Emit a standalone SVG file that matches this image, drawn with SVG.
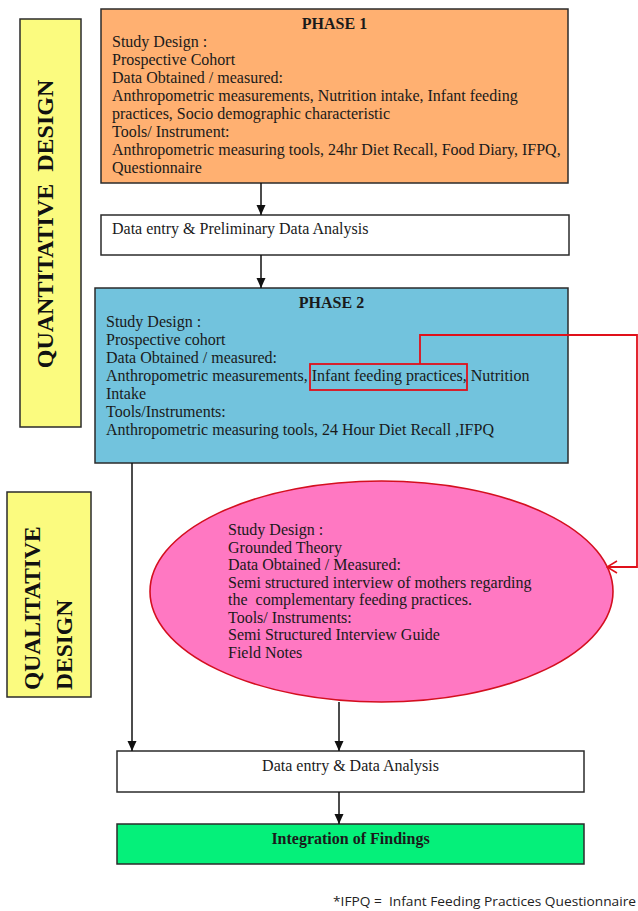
<svg xmlns="http://www.w3.org/2000/svg" width="638" height="911" viewBox="0 0 638 911">
<style>
.box{stroke:#2b2b2b;stroke-width:1.5}
.t{font-family:"Liberation Serif","Times New Roman",serif;font-size:16px;fill:#1a1a1a}
.b{font-weight:bold}
.side{font-family:"Liberation Serif","Times New Roman",serif;font-weight:bold;fill:#111}
.conn{stroke:#111;stroke-width:1.5;fill:none}
.red{stroke:#e0101a;stroke-width:1.8;fill:none}
.note{font-family:"Open Sans","Liberation Sans",sans-serif;font-size:13.5px;fill:#222;white-space:pre}
</style>
<defs>
<marker id="ah" markerUnits="userSpaceOnUse" markerWidth="10" markerHeight="10" refX="10" refY="4.5" orient="auto">
<path d="M0,0 L10,4.5 L0,9 z" fill="#111"/>
</marker>
<marker id="rah" markerUnits="userSpaceOnUse" markerWidth="12" markerHeight="14" refX="11" refY="7" orient="auto">
<path d="M1,1 L11,7 L1,13" fill="none" stroke="#e0101a" stroke-width="1.5"/>
</marker>
</defs>

<g id="quantitative-label">
<rect class="box" x="20" y="19" width="61" height="408" fill="#fbfb7f"/>
<text class="side" font-size="24" text-anchor="middle" transform="translate(53,224) rotate(-90)" style="white-space:pre">QUANTITATIVE  DESIGN</text>
</g>

<g id="qualitative-label">
<rect class="box" x="7" y="492" width="84" height="205" fill="#fbfb7f"/>
<text class="side" font-size="23.5" transform="translate(40,690) rotate(-90)">QUALITATIVE</text>
<text class="side" font-size="23.5" transform="translate(72,690) rotate(-90)">DESIGN</text>
</g>

<g id="phase1">
<rect class="box" x="101" y="9" width="467" height="174" fill="#ffb071"/>
<text class="t b" x="334.5" y="29" text-anchor="middle">PHASE 1</text>
<text class="t" x="112" y="47">Study Design :</text>
<text class="t" x="112" y="65">Prospective Cohort</text>
<text class="t" x="112" y="83">Data Obtained / measured:</text>
<text class="t" x="112" y="101">Anthropometric measurements, Nutrition intake, Infant feeding</text>
<text class="t" x="112" y="119">practices, Socio demographic characteristic</text>
<text class="t" x="112" y="137">Tools/ Instrument:</text>
<text class="t" x="112" y="155">Anthropometric measuring tools, 24hr Diet Recall, Food Diary, IFPQ,</text>
<text class="t" x="112" y="173">Questionnaire</text>
</g>

<g id="data-entry-1">
<rect class="box" x="101" y="215" width="468" height="40" fill="#ffffff"/>
<text class="t" x="112" y="234">Data entry &amp; Preliminary Data Analysis</text>
</g>

<g id="phase2">
<rect class="box" x="95" y="288" width="473" height="175" fill="#72c3dd"/>
<text class="t b" x="331.5" y="308" text-anchor="middle">PHASE 2</text>
<text class="t" x="106" y="327">Study Design :</text>
<text class="t" x="106" y="345">Prospective cohort</text>
<text class="t" x="106" y="363">Data Obtained / measured:</text>
<text class="t" x="106" y="381">Anthropometric measurements, Infant feeding practices, Nutrition</text>
<text class="t" x="106" y="399">Intake</text>
<text class="t" x="106" y="417">Tools/Instruments:</text>
<text class="t" x="106" y="435">Anthropometric measuring tools, 24 Hour Diet Recall ,IFPQ</text>
<rect class="red" x="310" y="364" width="157" height="26"/>
</g>

<g id="qualitative-ellipse">
<ellipse cx="381.5" cy="591.5" rx="231.5" ry="110.5" fill="#ff78c2" stroke="#d40f1f" stroke-width="1.6"/>
<text class="t" x="228" y="535">Study Design :</text>
<text class="t" x="228" y="553">Grounded Theory</text>
<text class="t" x="228" y="570">Data Obtained / Measured:</text>
<text class="t" x="228" y="588">Semi structured interview of mothers regarding</text>
<text class="t" x="228" y="605" style="white-space:pre">the  complementary feeding practices.</text>
<text class="t" x="228" y="623">Tools/ Instruments:</text>
<text class="t" x="228" y="640">Semi Structured Interview Guide</text>
<text class="t" x="228" y="658">Field Notes</text>
</g>

<g id="data-entry-2">
<rect class="box" x="117" y="751" width="467" height="41" fill="#ffffff"/>
<text class="t" x="350.5" y="771" text-anchor="middle">Data entry &amp; Data Analysis</text>
</g>

<g id="integration">
<rect class="box" x="117" y="824" width="467" height="40" fill="#05f07a"/>
<text class="t b" x="350.5" y="844" text-anchor="middle">Integration of Findings</text>
</g>

<g id="connectors">
<line class="conn" x1="261" y1="183" x2="261" y2="215" marker-end="url(#ah)"/>
<line class="conn" x1="261" y1="255" x2="261" y2="288" marker-end="url(#ah)"/>
<line class="conn" x1="132" y1="463" x2="132" y2="751" marker-end="url(#ah)"/>
<line class="conn" x1="339" y1="702" x2="339" y2="751" marker-end="url(#ah)"/>
<line class="conn" x1="339" y1="792" x2="339" y2="824" marker-end="url(#ah)"/>
<polyline class="red" points="420,364 420,335 637,335 637,567 607,567" marker-end="url(#rah)"/>
</g>

<g id="footnote">
<text class="note" x="333" y="906" textLength="303" lengthAdjust="spacingAndGlyphs">*IFPQ =  Infant Feeding Practices Questionnaire</text>
</g>
</svg>
